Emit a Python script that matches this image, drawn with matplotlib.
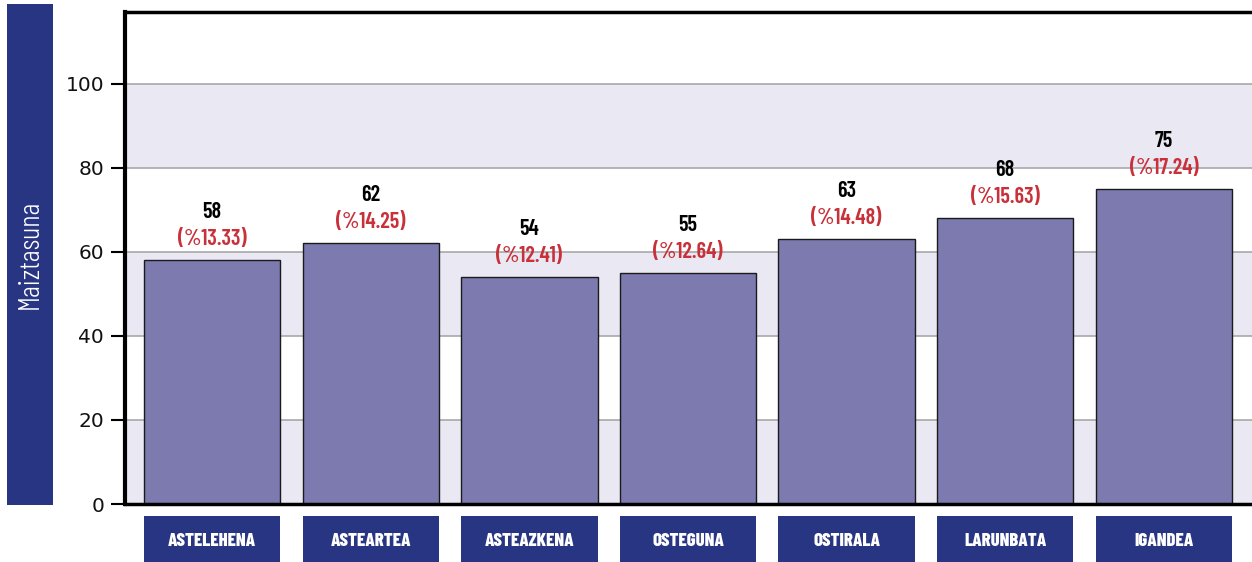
import matplotlib as mpl
import matplotlib.pyplot as plt
from matplotlib.patches import Rectangle

mpl.rcParams["font.family"] = ["DejaVu Sans"]

# DATA
days = ["ASTELEHENA", "ASTEARTEA", "ASTEAZKENA", "OSTEGUNA", "OSTIRALA", "LARUNBATA", "IGANDEA"]
counts = [58, 62, 54, 55, 63, 68, 75]
percents = [13.33, 14.25, 12.41, 12.64, 14.48, 15.63, 17.24]
yticks = [0, 20, 40, 60, 80, 100]

NAVY = "#283583"
BAR = "#7c7aae"
BAND = "#eae8f3"
RED = "#c8313a"
NARROW = ["Barlow Condensed", "DejaVu Sans"]

fig = plt.figure(figsize=(12.52, 5.62), dpi=100)
ax = fig.add_axes([0.0998, 0.1032, 0.9002, 0.8754])

# BACKGROUND BANDS + GRID
for lo in (0, 40, 80):
    ax.axhspan(lo, lo + 20, color=BAND, zorder=0, lw=0)
for y in yticks[1:]:
    ax.axhline(y, color="#a8a8a8", lw=1.2, zorder=1)

x = range(len(days))
ax.bar(x, counts, width=0.86, color=BAR, edgecolor="#1a1a1a", linewidth=1.0, zorder=2)

# VALUE LABELS
for i, (c, p) in enumerate(zip(counts, percents)):
    ax.annotate(str(c), (i, c), xytext=(0, 48), textcoords="offset pixels",
                ha="center", va="center", fontsize=16, fontweight=600,
                family=NARROW, color="black")
    ax.annotate(f"(%{p:.2f})", (i, c), xytext=(0, 21), textcoords="offset pixels",
                ha="center", va="center", fontsize=16, fontweight=600,
                family=NARROW, color=RED)

ax.set_xlim(-0.55, 6.556)
ax.set_ylim(0, 117)
ax.set_yticks(yticks)
ax.tick_params(axis="y", direction="out", length=10, width=1.5, pad=5,
               labelsize=14.5, labelcolor="#111111")
ax.set_xticks([])

ax.spines["right"].set_visible(False)
ax.spines["left"].set_linewidth(3)
ax.spines["top"].set_linewidth(2.5)
ax.spines["bottom"].set_linewidth(2.5)

# CATEGORY BOXES UNDER THE BARS
trans = ax.get_xaxis_transform()
for i, d in enumerate(days):
    ax.add_patch(Rectangle((i - 0.43, -0.125), 0.86, 0.1, transform=trans,
                           facecolor=NAVY, edgecolor="none", clip_on=False))
    ax.text(i, -0.075, d, transform=trans, ha="center", va="center", color="white",
            fontsize=13.5, fontweight=800, family=NARROW)

# Y-LABEL BOX
fig.patches.append(Rectangle((0.0056, 0.1014), 0.0367, 0.8915, transform=fig.transFigure,
                             facecolor=NAVY, edgecolor="none"))
fig.text(0.024, 0.547, "Maiztasuna", rotation=90, ha="center", va="center",
         color="white", fontsize=21, fontweight=300, family=NARROW)

fig.savefig("out.png", dpi=100)
